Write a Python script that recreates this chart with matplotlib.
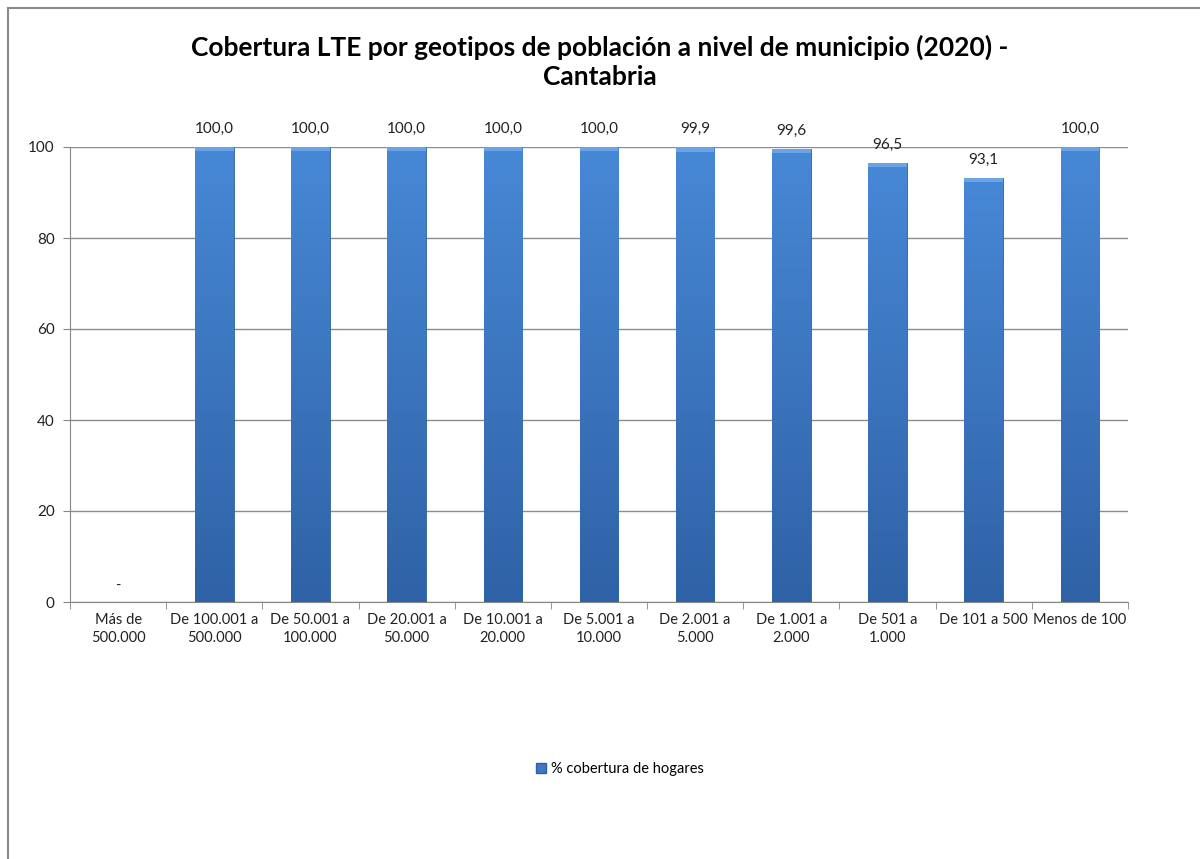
import matplotlib
matplotlib.use("Agg")
import matplotlib.pyplot as plt
import numpy as np
from matplotlib.lines import Line2D
from matplotlib.patches import Patch
from matplotlib.colors import LinearSegmentedColormap

plt.rcParams['font.family'] = ['Lato', 'DejaVu Sans']

categories = ["Más de\n500.000", "De 100.001 a\n500.000", "De 50.001 a\n100.000",
              "De 20.001 a\n50.000", "De 10.001 a\n20.000", "De 5.001 a\n10.000",
              "De 2.001 a\n5.000", "De 1.001 a\n2.000", "De 501 a\n1.000",
              "De 101 a 500", "Menos de 100"]
values = [None, 100.0, 100.0, 100.0, 100.0, 100.0, 99.9, 99.6, 96.5, 93.1, 100.0]
title = "Cobertura LTE por geotipos de población a nivel de municipio (2020) -\nCantabria"
series_name = "% cobertura de hogares"

fig = plt.figure(figsize=(12, 8.59), dpi=100)
ax = fig.add_axes([70/1200, 1-602/859, (1128-70)/1200, (602-147)/859])

x = np.arange(len(categories))
vals = [0 if v is None else v for v in values]
bars = ax.bar(x, vals, width=0.4, color='#3d78c4', edgecolor='#2f5f9c', linewidth=0.6, zorder=3)

grad = np.linspace(0, 1, 256).reshape(-1, 1)
cmap = LinearSegmentedColormap.from_list('b', ['#2f62a6', '#4788d6'])
for b in bars:
    h = b.get_height()
    if h <= 0:
        continue
    x0 = b.get_x(); w = b.get_width()
    im = ax.imshow(grad, extent=[x0, x0 + w, 0, h], origin='lower', cmap=cmap,
                   aspect='auto', zorder=3.5)
    im.set_clip_path(b)
    ax.bar(x0 + w/2, 0.9, bottom=h-0.9, width=w, color='#6aa3e6', linewidth=0, zorder=3.6)

for xi, v in zip(x, values):
    if v is None:
        ax.text(xi, 2, "-", ha='center', va='bottom', fontsize=10.5, color='#222222')
    else:
        ax.text(xi, v + 2.5, f"{v:.1f}".replace('.', ','), ha='center', va='bottom',
                fontsize=11, color='#222222')

ax.set_xlim(-0.5, len(categories) - 0.5)
ax.set_ylim(0, 100)
ax.set_yticks(range(0, 101, 20))
ax.set_xticks(x)
ax.set_xticklabels(categories, fontsize=10.5, color='#222222', linespacing=1.35)
ax.tick_params(axis='x', length=0, pad=8)
ax.set_xticks(np.arange(-0.5, len(categories), 1), minor=True)
ax.tick_params(axis='x', which='minor', length=5, color='#868686', direction='out')
ax.tick_params(axis='y', length=5, color='#868686', labelsize=11, labelcolor='#222222', pad=6)
ax.grid(axis='y', color='#8c8c8c', linewidth=1.0, zorder=0)
for s in ['top', 'right']:
    ax.spines[s].set_visible(False)
for s in ['left', 'bottom']:
    ax.spines[s].set_color('#868686')
ax.set_axisbelow(True)
ax.set_ylim(0, 100)

fig.text(0.5, 1 - 62/859, title, ha='center', va='center', fontsize=19, fontweight='bold',
         linespacing=1.25)

handle = Patch(facecolor='#3d78c4', edgecolor='#2f5f9c')
fig.legend([handle], [series_name], loc='center', bbox_to_anchor=(620/1200, 1 - 769/859),
           frameon=False, fontsize=10.5, handlelength=0.7, handleheight=0.7, handletextpad=0.3)

fig.add_artist(Line2D([8/1200, 1], [1 - 8/859, 1 - 8/859], color='#8a8a8a', linewidth=1.5,
                      transform=fig.transFigure))
fig.add_artist(Line2D([8/1200, 8/1200], [0, 1 - 8/859], color='#8a8a8a', linewidth=1.5,
                      transform=fig.transFigure))

fig.savefig("out.png", dpi=100)
